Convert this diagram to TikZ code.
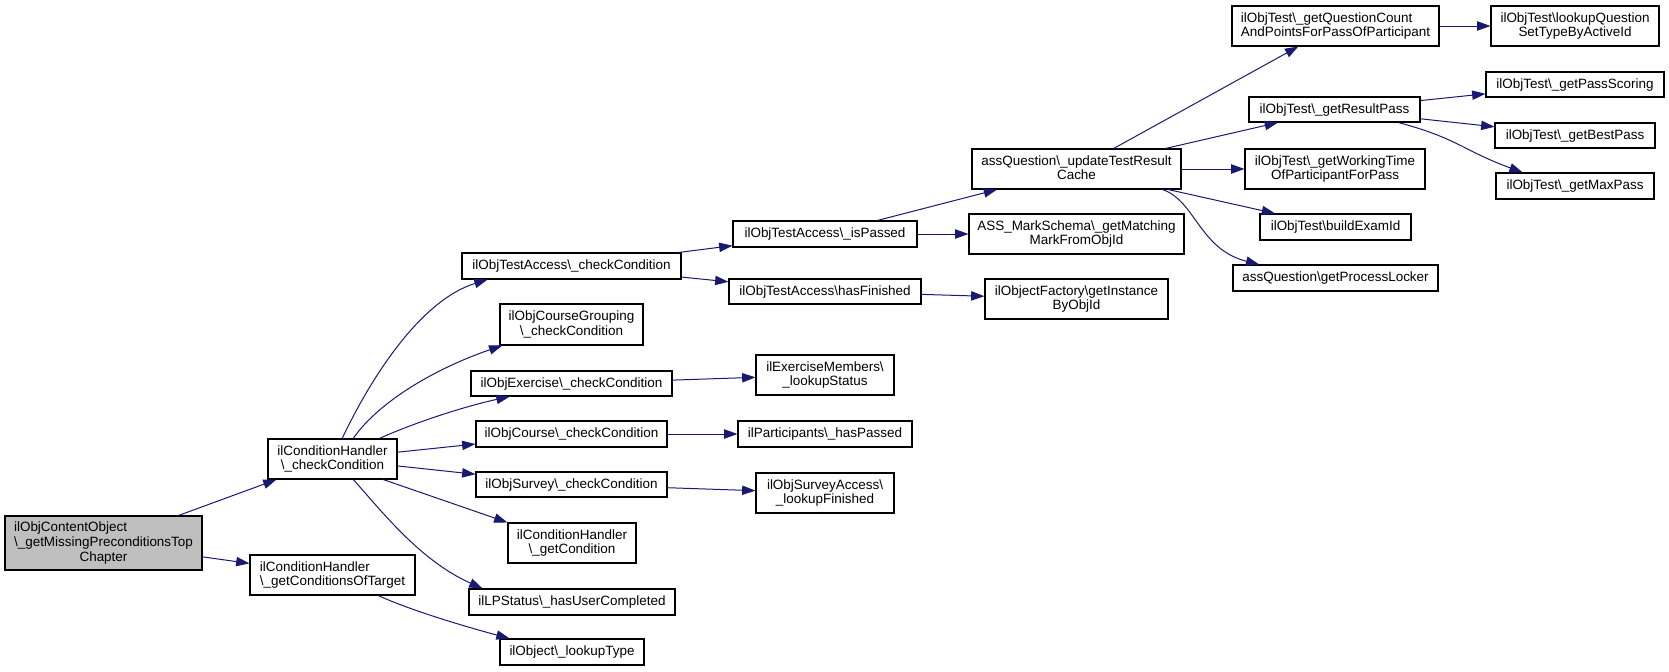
\documentclass[tikz,border=0pt]{standalone}
\usepackage{fontspec}
\setmainfont{Liberation Sans}
\usetikzlibrary{arrows.meta,calc}
\definecolor{edgec}{HTML}{191970}
\definecolor{rootfill}{HTML}{BFBFBF}
\newcommand\bsl{\textbackslash}
\newcommand\oneL[1]{\raisebox{0pt}[7.7pt][2.3pt]{#1}}
\newcommand\twoL[2]{\raisebox{0pt}[7.7pt][13.3pt]{\begin{tabular}[t]{@{}l@{}}#1\\\multicolumn{1}{@{}c@{}}{#2}\end{tabular}}}
\newcommand\threeL[3]{\raisebox{0pt}[7.7pt][24.3pt]{\begin{tabular}[t]{@{}l@{}}#1\\#2\\\multicolumn{1}{@{}c@{}}{#3}\end{tabular}}}
\tikzset{
  box/.style 2 args={draw=black, line width=0.8pt, fill=white, inner sep=0pt,
    font=\fontsize{10.1}{11}\selectfont, minimum width=#1*0.75pt, minimum height=#2*0.75pt},
  rootbox/.style 2 args={box={#1}{#2}, fill=rootfill},
  call/.style={draw=edgec, line width=0.75pt, -{Triangle[length=10pt,width=7pt]}}
}
\begin{document}
\begin{tikzpicture}[x=0.75pt,y=-0.75pt]
\useasboundingbox (0,0) rectangle (1669,671);
% nodes
\node[rootbox={197}{54}] (root) at (103.5,543) {\threeL{ilObjContentObject}{\bsl\_getMissingPreconditionsTop}{Chapter}};
\node[box={129}{40}] (chk) at (332.5,459) {\twoL{ilConditionHandler}{\bsl\_checkCondition}};
\node[box={165}{40}] (gct) at (332.5,575) {\twoL{ilConditionHandler}{\bsl\_getConditionsOfTarget}};
\node[box={219}{26}] (otac) at (571.5,266) {\oneL{ilObjTestAccess\bsl\_checkCondition}};
\node[box={143}{41}] (ocg) at (571.5,324.5) {\twoL{ilObjCourseGrouping}{\bsl\_checkCondition}};
\node[box={201}{25}] (oex) at (571.5,383.5) {\oneL{ilObjExercise\bsl\_checkCondition}};
\node[box={191}{26}] (ocr) at (571.5,434) {\oneL{ilObjCourse\bsl\_checkCondition}};
\node[box={191}{25}] (osv) at (571.5,484.5) {\oneL{ilObjSurvey\bsl\_checkCondition}};
\node[box={128}{40}] (chgc) at (572,543) {\twoL{ilConditionHandler}{\bsl\_getCondition}};
\node[box={206}{26}] (lps) at (572,602) {\oneL{ilLPStatus\bsl\_hasUserCompleted}};
\node[box={144}{26}] (olt) at (572,652) {\oneL{ilObject\bsl\_lookupType}};
\node[box={138}{40}] (exm) at (825,375) {\twoL{ilExerciseMembers\bsl}{\_lookupStatus}};
\node[box={174}{26}] (php) at (825,434) {\oneL{ilParticipants\bsl\_hasPassed}};
\node[box={138}{40}] (sva) at (825,493) {\twoL{ilObjSurveyAccess\bsl}{\_lookupFinished}};
\node[box={184}{26}] (isp) at (825,234) {\oneL{ilObjTestAccess\bsl\_isPassed}};
\node[box={192}{25}] (hf) at (825,291.5) {\oneL{ilObjTestAccess\bsl hasFinished}};
\node[box={209}{40}] (utc) at (1076.5,169) {\twoL{assQuestion\bsl\_updateTestResult}{Cache}};
\node[box={215}{40}] (msc) at (1076.5,234) {\twoL{ASS\_MarkSchema\bsl\_getMatching}{MarkFromObjId}};
\node[box={183}{40}] (ofi) at (1076.5,299) {\twoL{ilObjectFactory\bsl getInstance}{ByObjId}};
\node[box={207}{40}] (qcp) at (1335.5,26) {\twoL{ilObjTest\bsl\_getQuestionCount}{AndPointsForPassOfParticipant}};
\node[box={168}{40}] (lqs) at (1575,26) {\twoL{ilObjTest\bsl lookupQuestion}{SetTypeByActiveId}};
\node[box={171}{25}] (grp) at (1334.5,109.5) {\oneL{ilObjTest\bsl\_getResultPass}};
\node[box={178}{25}] (gps) at (1575,84.5) {\oneL{ilObjTest\bsl\_getPassScoring}};
\node[box={160}{25}] (gbp) at (1575,135.5) {\oneL{ilObjTest\bsl\_getBestPass}};
\node[box={158}{26}] (gmp) at (1575,186) {\oneL{ilObjTest\bsl\_getMaxPass}};
\node[box={180}{40}] (gwt) at (1335,169) {\twoL{ilObjTest\bsl\_getWorkingTime}{OfParticipantForPass}};
\node[box={151}{26}] (bei) at (1335.5,227) {\oneL{ilObjTest\bsl buildExamId}};
\node[box={205}{26}] (gpl) at (1335.5,278) {\oneL{assQuestion\bsl getProcessLocker}};
% straight edges
\draw[call] (root) -- (chk);
\draw[call] (root) -- (gct);
\draw[call] (chk) -- (ocr);
\draw[call] (chk) -- (osv);
\draw[call] ($(chk.south west)!0.89!(chk.south east)$) -- (chgc.north west);
\draw[call] (otac) -- (isp);
\draw[call] (otac) -- (hf);
\draw[call] (isp) -- (utc);
\draw[call] (isp) -- (msc);
\draw[call] (hf) -- (ofi);
\draw[call] (oex) -- (exm);
\draw[call] (ocr) -- (php);
\draw[call] (osv) -- (sva);
\draw[call] (utc) -- (qcp);
\draw[call] (utc) -- (grp);
\draw[call] (utc) -- (gwt);
\draw[call] (utc) -- (bei);
\draw[call] (qcp) -- (lqs);
\draw[call] (grp) -- (gps);
\draw[call] (grp) -- (gbp);
% curved edges
\draw[call] ($(chk.north west)!0.574!(chk.north east)$) .. controls +(28,-59) and +(-68,21) .. ($(otac.south west)!0.119!(otac.south east)$);
\draw[call] ($(chk.north west)!0.659!(chk.north east)$) .. controls +(27,-39) and +(-62,21) .. ($(ocg.south west)!0.02!(ocg.south east)$);
\draw[call] ($(chk.north west)!0.86!(chk.north east)$) .. controls +(31,-14) and +(-50,11) .. ($(oex.south west)!0.194!(oex.south east)$);
\draw[call] ($(chk.south west)!0.66!(chk.south east)$) .. controls +(27,30) and +(-63,-28) .. ($(lps.north west)!0.068!(lps.north east)$);
\draw[call] ($(gct.south west)!0.776!(gct.south east)$) .. controls +(30,14) and +(-45,-12) .. ($(olt.north west)!0.07!(olt.north east)$);
\draw[call] ($(utc.south west)!0.909!(utc.south east)$) .. controls +(33,11) and +(-60,-15) .. ($(gpl.north west)!0.13!(gpl.north east)$);
\draw[call] ($(grp.south west)!0.871!(grp.south east)$) .. controls +(60,16) and +(-60,-22) .. ($(gmp.north west)!0.171!(gmp.north east)$);
\end{tikzpicture}
\end{document}
